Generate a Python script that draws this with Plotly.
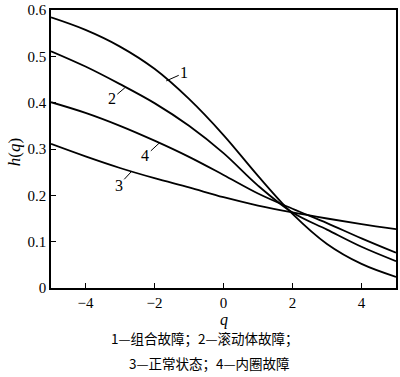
import plotly.graph_objects as go

q = [-5, -4, -3, -2, -1, 0, 1, 2, 3, 4, 5]
h1 = [0.584, 0.557, 0.521, 0.473, 0.408, 0.330, 0.242, 0.160, 0.095, 0.052, 0.024]
h2 = [0.511, 0.478, 0.440, 0.399, 0.350, 0.291, 0.221, 0.163, 0.126, 0.089, 0.058]
h3 = [0.311, 0.284, 0.259, 0.237, 0.217, 0.196, 0.178, 0.163, 0.150, 0.138, 0.127]
h4 = [0.401, 0.378, 0.350, 0.318, 0.283, 0.244, 0.204, 0.171, 0.140, 0.107, 0.076]

x_ticks = [-4, -2, 0, 2, 4]
y_ticks = [0, 0.1, 0.2, 0.3, 0.4, 0.5, 0.6]
y_ticklabels = ["0", "0.1", "0.2", "0.3", "0.4", "0.5", "0.6"]

# curve labels: (text, q on curve, h on curve, text offset px)
labels = [
    ("1", -1.66, 0.447, 18, -8),
    ("2", -2.86, 0.432, -13, 11),
    ("4", -1.86, 0.313, -14, 13),
    ("3", -2.66, 0.252, -13, 14),
]
caption1 = "1—组合故障；2—滚动体故障；"
caption2 = "3—正常状态；4—内圈故障"

serif = "Liberation Serif"
cjk = "Noto Sans CJK SC"

fig = go.Figure()
for ys in (h1, h2, h3, h4):
    fig.add_trace(go.Scatter(x=q, y=ys, mode="lines",
                             line=dict(color="black", width=1.8, shape="spline", smoothing=1.0),
                             showlegend=False, hoverinfo="skip"))

for t, xq, yh, ax, ay in labels:
    fig.add_annotation(x=xq, y=yh, text=t, showarrow=True, arrowhead=0, arrowwidth=1,
                       arrowcolor="black", ax=ax, ay=ay, standoff=0,
                       font=dict(family=serif, size=16, color="black"))

fig.add_annotation(xref="paper", yref="paper", x=-0.107, y=0.489, text="<i>h</i>(<i>q</i>)",
                   textangle=-90, showarrow=False, xanchor="center", yanchor="middle",
                   font=dict(family=serif, size=17, color="black"))
fig.add_annotation(xref="paper", yref="paper", x=0.501, y=-0.116, text="<i>q</i>",
                   showarrow=False, xanchor="center", yanchor="middle",
                   font=dict(family=serif, size=16, color="black"))
fig.add_annotation(xref="paper", yref="paper", x=0.445, y=-0.180, text=caption1,
                   showarrow=False, xanchor="center", yanchor="middle",
                   font=dict(family=cjk, size=13.5, color="black"))
fig.add_annotation(xref="paper", yref="paper", x=0.458, y=-0.268, text=caption2,
                   showarrow=False, xanchor="center", yanchor="middle",
                   font=dict(family=cjk, size=13.5, color="black"))

fig.update_layout(
    width=400, height=377,
    margin=dict(l=51, r=2, t=6, b=89),
    paper_bgcolor="white", plot_bgcolor="white",
    font=dict(family=serif, color="black"),
    xaxis=dict(range=[-5, 5], tickvals=x_ticks, ticks="inside", ticklen=5, tickcolor="black",
               showline=True, linecolor="black", linewidth=1.5, mirror=True, showgrid=False,
               zeroline=False, ticklabeloverflow="allow",
               tickfont=dict(family=serif, size=15, color="black")),
    yaxis=dict(range=[0, 0.6], tickvals=y_ticks, ticktext=y_ticklabels, ticks="inside", ticklen=5,
               tickcolor="black", showline=True, linecolor="black", linewidth=1.5, mirror=True,
               showgrid=False, zeroline=False, ticklabeloverflow="allow",
               tickfont=dict(family=serif, size=15, color="black")),
)
fig.write_html("out.html", config={"displayModeBar": False},
               post_script="document.body.style.margin='0';")
